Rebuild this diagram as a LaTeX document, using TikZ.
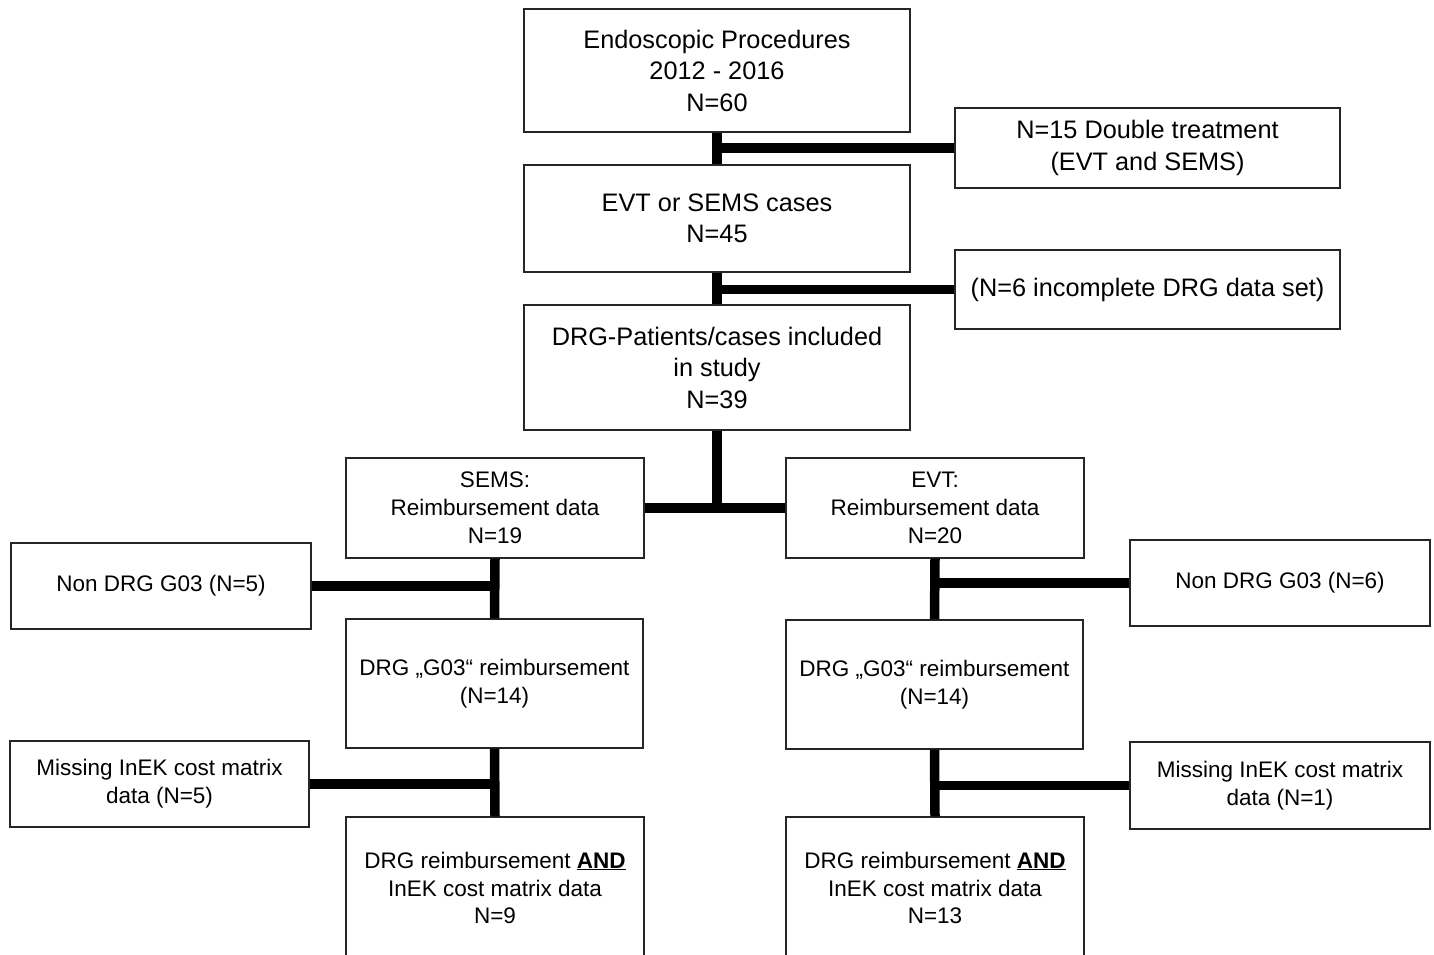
\documentclass[tikz,border=0pt]{standalone}
\usepackage{fontspec}
\setmainfont{Liberation Sans}
\begin{document}
\begin{tikzpicture}[x=1pt,y=-1pt,
  box/.style={draw=black!85, line width=1.4pt, inner sep=0pt, align=center, fill=white},
  big/.style={font=\fontsize{25.3}{31.5}\selectfont},
  small/.style={font=\fontsize{22.5}{27.8}\selectfont},
  conn/.style={line width=9.5pt, black}]
\useasboundingbox (0,0) rectangle (1434,955);
\clip (0,0) rectangle (1434,955);
% main column
\node[box,big,minimum width=386pt,minimum height=123pt] (A) at (717,70.5) {Endoscopic Procedures\\2012 - 2016\\N=60};
\node[box,big,minimum width=385pt,minimum height=80pt] (B) at (1147.5,148) {N=15 Double treatment\\(EVT and SEMS)};
\node[box,big,minimum width=386pt,minimum height=107pt] (C) at (717,218.5) {EVT or SEMS cases\\N=45};
\node[box,big,minimum width=385pt,minimum height=79pt] (D) at (1147.5,289.5) {(N=6 incomplete DRG data set)};
\node[box,big,minimum width=386pt,minimum height=125pt] (E) at (717,367.5) {DRG-Patients/cases included\\in study\\N=39};
% branches
\node[box,small,minimum width=298pt,minimum height=100pt] (F) at (495,508) {SEMS:\\Reimbursement data\\N=19};
\node[box,small,minimum width=298pt,minimum height=100pt] (G) at (935,508) {EVT:\\Reimbursement data\\N=20};
\node[box,small,minimum width=300pt,minimum height=86pt] (H) at (161,586) {Non DRG G03 (N=5)};
\node[box,small,minimum width=300pt,minimum height=86pt] (I) at (1280,583) {Non DRG G03 (N=6)};
\node[box,small,minimum width=297pt,minimum height=129pt] (J) at (494.5,683.5) {DRG „G03“ reimbursement\\(N=14)};
\node[box,small,minimum width=297pt,minimum height=129pt] (K) at (934.5,684.5) {DRG „G03“ reimbursement\\(N=14)};
\node[box,small,minimum width=299pt,minimum height=86pt] (L) at (159.5,784) {Missing InEK cost matrix\\data (N=5)};
\node[box,small,minimum width=300pt,minimum height=87pt] (M) at (1280,785.5) {Missing InEK cost matrix\\data (N=1)};
\node[box,small,minimum width=298pt,minimum height=142pt] (N) at (495,888) {DRG reimbursement \underline{\textbf{AND}}\\InEK cost matrix data\\N=9};
\node[box,small,minimum width=298pt,minimum height=142pt] (O) at (935,888) {DRG reimbursement \underline{\textbf{AND}}\\InEK cost matrix data\\N=13};
% connectors
\draw[conn] (A.south) -- (C.north);
\draw[conn] (B.west) -- (B.west -| A.south);
\draw[conn] (C.south) -- (E.north);
\draw[conn] (D.west) -- (D.west -| C.south);
\draw[conn] (E.south) -- (E.south |- F.east);
\draw[conn] (F.east) -- (G.west);
\draw[conn] (F.south) -- (J.north);
\draw[conn] (H.east) -- (H.east -| F.south);
\draw[conn] (J.south) -- (N.north);
\draw[conn] (L.east) -- (L.east -| J.south);
\draw[conn] (G.south) -- (K.north);
\draw[conn] (I.west) -- (I.west -| G.south);
\draw[conn] (K.south) -- (O.north);
\draw[conn] (M.west) -- (M.west -| K.south);
\end{tikzpicture}
\end{document}
